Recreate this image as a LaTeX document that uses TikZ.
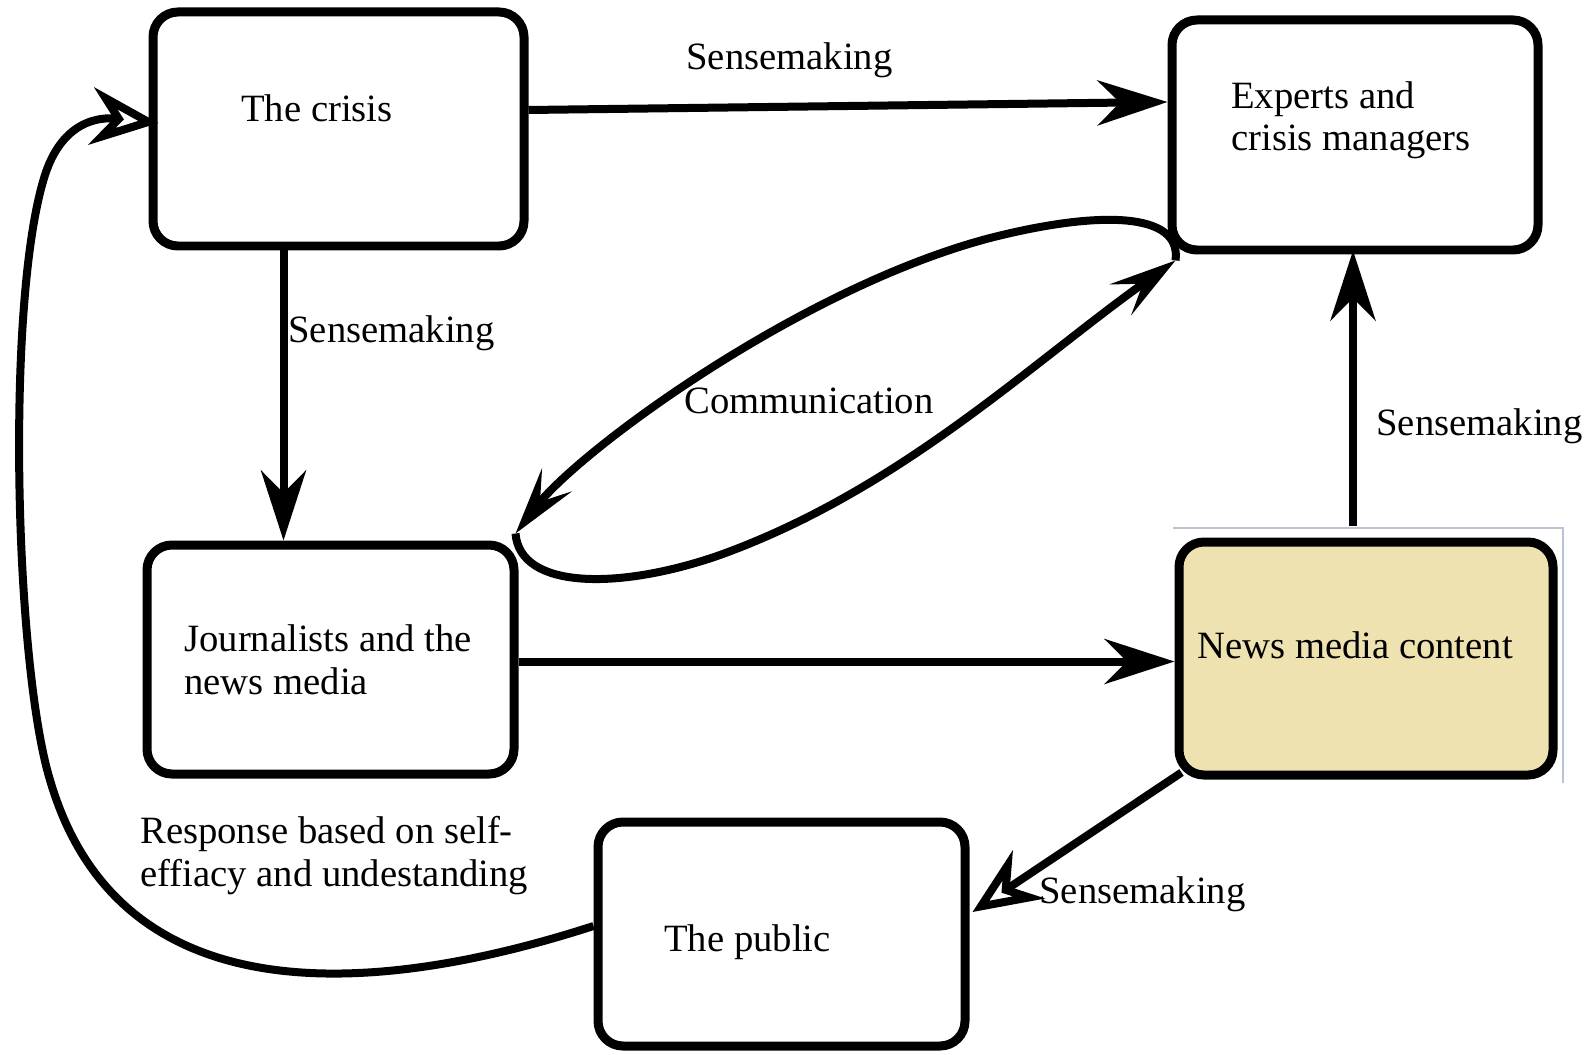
\documentclass[tikz,border=0pt]{standalone}
\usepackage{fontspec}
\setmainfont{Liberation Serif}
\usetikzlibrary{arrows.meta,calc}
\definecolor{newsFill}{RGB}{238,227,176}
\definecolor{frameGrey}{RGB}{184,196,214}

\begin{document}
\begin{tikzpicture}
[x=0.02cm, y=-0.02cm,%
  lineDecorate/.style={line width=0.16cm,-{Stealth[length=1.4cm,width=0.9cm,inset=0.45cm]}},%
  openDecorate/.style={line width=0.16cm,-{Stealth[open,length=1.35cm,width=1.15cm,inset=0.45cm]}},%
  commDecorate/.style={line width=0.16cm,-{Stealth[length=1.35cm,width=0.75cm,inset=0.55cm]}},%
  nodeDecorate/.style={shape=rectangle,rounded corners=0.5cm,draw,line width=0.18cm,inner sep=0pt},%
  textDecorate/.style={anchor=base west,inner sep=0pt,align=left}]
\fontsize{22}{24.4}\selectfont
\useasboundingbox (0,0) rectangle (1591,1054);
%% frame left over behind the content box
\draw[frameGrey,line width=0.03cm] (1173,528) -- (1563,528) -- (1563,783);
%% boxes
\foreach \nodename/\x/\y/\w/\h/\col in {
  crisis/338.5/129/371/234/white, experts/1355/135/366/230/white,
  journalists/330.5/659.5/367/229/white, news/1366/658.5/374/233/newsFill,
  public/781.5/934/367/224/white}
{
  \node (\nodename) at (\x,\y) [nodeDecorate,fill=\col,
    minimum width=\w*0.02cm,minimum height=\h*0.02cm] {};
}
%% texts (base = last line)
\foreach \nodename/\x/\y/\txt in {
  crisisText/241/122/{The crisis},
  expertsText/1231/151/{Experts and\\crisis managers},
  journalistsText/184/694/{Journalists and the\\news media},
  newsText/1197/658/{News media content},
  publicText/664/951/{The public},
  senseTop/686/70/{Sensemaking}, senseLeft/288/342/{Sensemaking},
  senseRight/1376/435/{Sensemaking}, senseBottom/1039/903/{Sensemaking},
  commText/684/413/{Communication},
  responseText/140/886/{Response based on self-\\effiacy and undestanding}}
{
  \node (\nodename) at (\x,\y) [textDecorate] {\txt};
}
%% edges or lines
\path
  ($(crisis.east)+(0,-19)$) edge[lineDecorate] ($(experts.west)+(0,-33)$)
  ($(crisis.south)+(-55,0)$) edge[lineDecorate] ($(journalists.north)+(-47,0)$)
  ($(journalists.east)+(0,2)$) edge[lineDecorate] ($(news.west)+(0,3)$)
  ($(news.north)+(-13,-12)$) edge[lineDecorate] ($(experts.south)+(-2,-4)$)
  ($(news.south west)+(7,-7)$) edge[openDecorate] ($(public.east)+(3,-22)$);
\draw[openDecorate] ($(public.west)+(0,-8)$) .. controls (380,995) and (120,1020) .. (50,780)
  .. controls (15,665) and (5,300) .. (45,175)
  .. controls (65,113) and (110,118) .. ($(crisis.west)+(10,-6)$);
\draw[commDecorate] ($(experts.south west)+(8,6)$) .. controls (1182,212) and (1100,210) .. (990,238)
  .. controls (800,288) and (580,450) .. ($(journalists.north east)+(-3,-7)$);
\draw[commDecorate] ($(journalists.north east)+(-3,-7)$) .. controls (520,590) and (620,590) .. (720,555)
  .. controls (900,490) and (1030,364) .. ($(experts.south west)+(8,6)$);
\end{tikzpicture}
\end{document}
